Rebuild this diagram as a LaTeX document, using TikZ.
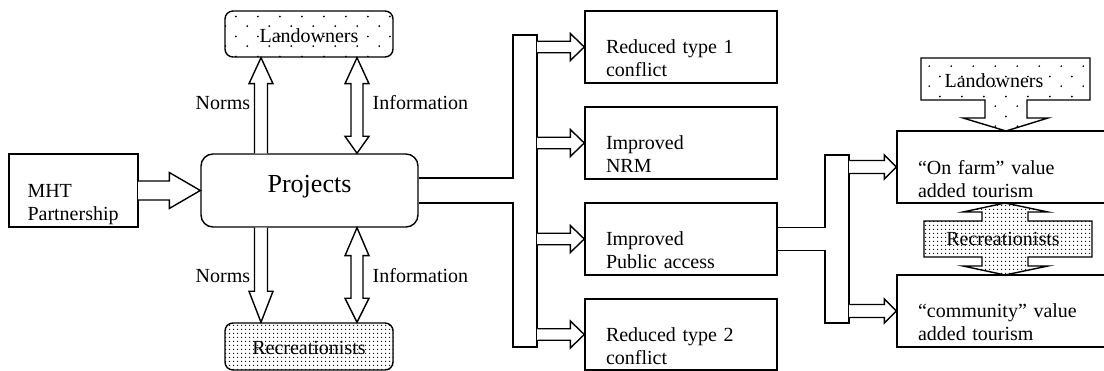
\documentclass[tikz,border=0pt]{standalone}
\usepackage{fontspec}
\setmainfont{Liberation Serif}
\usetikzlibrary{calc,patterns}
\pgfdeclarepatternformonly{sparsedots}{\pgfpointorigin}{\pgfpoint{22pt}{20pt}}{\pgfpoint{22pt}{20pt}}{%
  \pgfpathcircle{\pgfpoint{5.5pt}{5pt}}{1pt}%
  \pgfpathcircle{\pgfpoint{16.5pt}{15pt}}{1pt}%
  \pgfusepath{fill}}
\pgfdeclarepatternformonly{densedots}{\pgfpointorigin}{\pgfpoint{4pt}{4pt}}{\pgfpoint{4pt}{4pt}}{%
  \pgfpathcircle{\pgfpoint{2pt}{2pt}}{0.8pt}\pgfusepath{fill}}
% horizontal block arrow: tail x from #1, tip #2
\newcommand\harr[5]{%
  \fill[white] let \p1=#1, \p2=#2 in (\x1-1.2pt,\y2-#3+0.7pt) rectangle (\x1+1.2pt,\y2+#3-0.7pt);
  \draw[blk] let \p1=#1, \p2=#2 in (\x1,\y2+#3) -- (\x2-#5,\y2+#3) -- (\x2-#5,\y2+#4) -- (\x2,\y2)
    -- (\x2-#5,\y2-#4) -- (\x2-#5,\y2-#3) -- (\x1,\y2-#3);}
% vertical block arrow
\newcommand\varr[5]{%
  \draw[blk] let \p1=#1, \p2=#2, \p3=($#2!#5!#1$) in (\x2-#3,\y1) -- (\x2-#3,\y3) -- (\x2-#4,\y3)
    -- (\x2,\y2) -- (\x2+#4,\y3) -- (\x2+#3,\y3) -- (\x2+#3,\y1);}
% vertical double block arrow
\newcommand\vdarr[6]{%
  \draw[blk] let \p1=#1, \p2=#2, \p3=($#1!#5!#2$), \p4=($#2!#6!#1$) in (\x1,\y1) -- (\x1+#4,\y3)
    -- (\x1+#3,\y3) -- (\x1+#3,\y4) -- (\x1+#4,\y4) -- (\x1,\y2) -- (\x1-#4,\y4) -- (\x1-#3,\y4)
    -- (\x1-#3,\y3) -- (\x1-#4,\y3) -- cycle;}
% double-line trunk from node #1 to node #2
\newcommand\trunk[3]{%
  \fill[white] let \p1=(#1.east), \p2=(#2.west) in (\x2-1.2pt,\y1-#3+0.7pt) rectangle (\x2+1.2pt,\y1+#3-0.7pt);
  \draw let \p1=(#1.east), \p2=(#2.west) in (\x1,\y1+#3) -- (\x2,\y1+#3) (\x1,\y1-#3) -- (\x2,\y1-#3);}
\newcommand\recpath{(924,221) -- (982,221) -- (982,212) -- (963,212) -- (1005,203) -- (1048,212)
  -- (1028,212) -- (1028,221) -- (1092,221) -- (1092,257) -- (1028,257) -- (1028,266) -- (1048,266)
  -- (1005,275) -- (963,266) -- (982,266) -- (982,257) -- (924,257) -- cycle}
\begin{document}
\begin{tikzpicture}[x=1pt,y=-1pt,line width=1.4pt,
  font=\fontsize{20}{23}\selectfont,
  blk/.style={draw,fill=white,line join=miter},
  box/.style={draw,fill=white,minimum height=72pt,inner ysep=0pt,inner xsep=21pt,
    align=left,text width=150pt,text depth=0pt},
  rbox/.style={box,text width=178pt},
  bar/.style={draw,fill=white,minimum width=24pt,inner sep=0pt},
  lbl/.style={anchor=base west,inner sep=0pt}]
\useasboundingbox (0,0) rectangle (1104,371);
\fill[white] (0,0) rectangle (1104,371);

% left part
\node[box,minimum height=73pt,text width=92pt,inner xsep=18.5pt] (mht) at (73.5,190.5) {MHT\\Partnership};
\node[draw,fill=white,rounded corners=12pt,minimum width=217pt,minimum height=73pt,
  font=\fontsize{26}{30}\selectfont,text height=17.8pt,text depth=12.8pt] (proj) at (309.5,190.5) {Projects};
\node[draw,pattern=sparsedots,rounded corners=8pt,minimum width=168pt,minimum height=46pt,
  text height=18pt,text depth=0pt,inner sep=0pt] (lo) at (309,34) {Landowners};
\node[draw,fill=white,rounded corners=8pt,minimum width=168pt,minimum height=47pt,
  text height=17pt,text depth=0pt,inner sep=0pt] (rec) at (309,346.5) {Recreationists};
\path[pattern=densedots,rounded corners=8pt] (rec.south west) rectangle (rec.north east);

\node[lbl] (n1) at (195,110) {Norms};
\node[lbl] (i1) at (372,110) {Information};
\node[lbl] (n2) at (195,283) {Norms};
\node[lbl] (i2) at (372,283) {Information};

\coordinate (nx) at (261,0);
\coordinate (ix) at (357,0);
\varr{(proj.north -| nx)}{(lo.south -| nx)}{6.5pt}{12pt}{26pt}
\varr{(proj.south -| nx)}{(rec.north -| nx)}{6.5pt}{12pt}{31pt}
\vdarr{(lo.south -| ix)}{(proj.north -| ix)}{6pt}{12pt}{26pt}{17pt}
\vdarr{(proj.south -| ix)}{(rec.north -| ix)}{6pt}{12pt}{28pt}{24pt}

\harr{(mht.east)}{(proj.west)}{9.5pt}{18pt}{31pt}

% middle column
\node[box] (b1) at (681,47) {Reduced type 1\\conflict};
\node[box] (b2) at (681,143) {Improved\\NRM};
\node[box] (b3) at (681,239) {Improved\\Public access};
\node[box,minimum height=71pt] (b4) at (681,334.5) {Reduced type 2\\conflict};

\node[bar,minimum height=312pt] (bar1) at (525,191) {};
\trunk{proj}{bar1}{12.5pt}
\foreach \b in {b1,b2,b3,b4}{\harr{(bar1.east)}{(\b.west)}{5.75pt}{13.5pt}{14pt}}

% right part
\node[rbox] (of) at (1007,167) {“On farm” value\\added tourism};
\node[rbox] (cm) at (1007,311) {“community” value\\added tourism};
\node[bar,minimum height=168pt] (bar2) at (837,239) {};
\trunk{b3}{bar2}{11.5pt}
\harr{(bar2.east)}{(of.west)}{6.5pt}{12pt}{12pt}
\harr{(bar2.east)}{(cm.west)}{6.5pt}{12pt}{12pt}

\draw[line join=miter,fill=white] (921,58) -- (1090,58) -- (1090,100) -- (1027,100) -- (1027,118)
  -- (1048,118) -- (1006,131) -- (963,118) -- (985,118) -- (985,100) -- (921,100) -- cycle;
\path[pattern=sparsedots] (921,58) -- (1090,58) -- (1090,100) -- (1027,100) -- (1027,118)
  -- (1048,118) -- (1006,131) -- (963,118) -- (985,118) -- (985,100) -- (921,100) -- cycle;
\node[inner sep=0pt,text depth=0pt] (lo2) at (994,81) {Landowners};

\draw[line join=miter,fill=white] \recpath;
\node[inner sep=0pt] (rec2) at (1003,238.5) {Recreationists};
\path[pattern=densedots] \recpath;
\end{tikzpicture}
\end{document}
